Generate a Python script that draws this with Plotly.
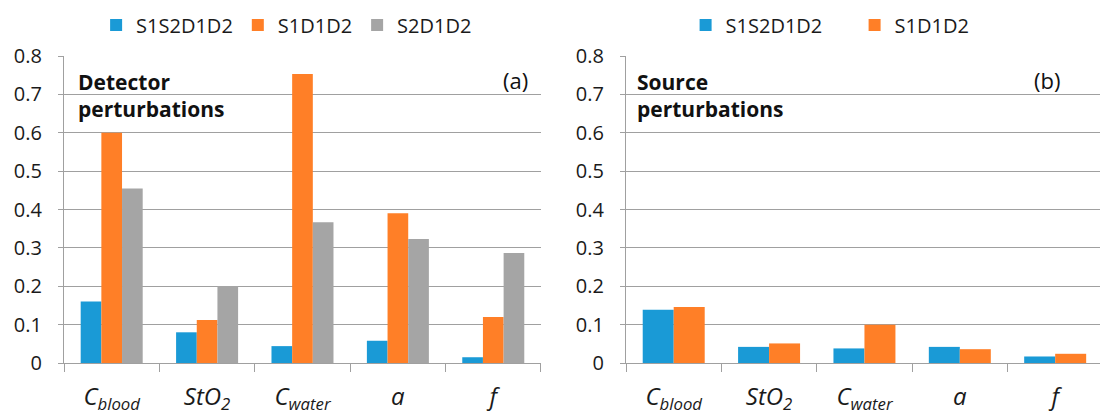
import plotly.graph_objects as go

categories = ["<i>C<sub>blood</sub></i>", "<i>StO<sub>2</sub></i>", "<i>C<sub>water</sub></i>", "<i>a</i>", "<i>f</i>"]

# Panel (a): detector perturbations
det_s1s2d1d2 = [0.160, 0.080, 0.044, 0.058, 0.015]
det_s1d1d2 = [0.600, 0.112, 0.753, 0.390, 0.120]
det_s2d1d2 = [0.455, 0.201, 0.367, 0.323, 0.287]

# Panel (b): source perturbations
src_s1s2d1d2 = [0.139, 0.042, 0.038, 0.042, 0.017]
src_s1d1d2 = [0.146, 0.051, 0.100, 0.036, 0.024]

y_tickvals = [0, 0.1, 0.2, 0.3, 0.4, 0.5, 0.6, 0.7, 0.8]
y_ticktext = ["0", "0.1", "0.2", "0.3", "0.4", "0.5", "0.6", "0.7", "0.8"]

BLUE = "#1A9AD6"
ORANGE = "#FF7F27"
GRAY = "#A5A5A5"
LINE = "#A0A0A0"
FONT = "Open Sans"
TXT = "#1a1a1a"

fig = go.Figure()

fig.add_trace(go.Bar(x=categories, y=det_s1s2d1d2, name="S1S2D1D2", marker_color=BLUE,
                     xaxis="x", yaxis="y", legend="legend", offsetgroup="a1"))
fig.add_trace(go.Bar(x=categories, y=det_s1d1d2, name="S1D1D2", marker_color=ORANGE,
                     xaxis="x", yaxis="y", legend="legend", offsetgroup="a2"))
fig.add_trace(go.Bar(x=categories, y=det_s2d1d2, name="S2D1D2", marker_color=GRAY,
                     xaxis="x", yaxis="y", legend="legend", offsetgroup="a3"))

fig.add_trace(go.Bar(x=categories, y=src_s1s2d1d2, name="S1S2D1D2", marker_color=BLUE,
                     xaxis="x2", yaxis="y2", legend="legend2", offsetgroup="b1"))
fig.add_trace(go.Bar(x=categories, y=src_s1d1d2, name="S1D1D2", marker_color=ORANGE,
                     xaxis="x2", yaxis="y2", legend="legend2", offsetgroup="b2"))

fig.update_traces(marker_line_width=0)

common_x = dict(
    type="category", showline=True, linecolor=LINE, linewidth=1.2,
    ticks="outside", ticklen=8, tickcolor=LINE, tickwidth=1.2, tickson="boundaries",
    showgrid=False, zeroline=False,
    tickfont=dict(family=FONT, size=24, color=TXT),
    ticklabelstandoff=12,
)
common_y = dict(
    range=[0, 0.8001], tickvals=y_tickvals, ticktext=y_ticktext,
    showline=True, linecolor=LINE, linewidth=1.2,
    ticks="outside", ticklen=5, tickcolor=LINE, tickwidth=1.2,
    showgrid=True, gridcolor=LINE, gridwidth=1.2, zeroline=False,
    tickfont=dict(family=FONT, size=20, color=TXT),
    ticklabelstandoff=12,
)

fig.update_layout(
    width=1100, height=416, autosize=False,
    margin=dict(l=64, r=0, t=56, b=53),
    paper_bgcolor="white", plot_bgcolor="white",
    barmode="group",
    bargap=0.35,
    font=dict(family=FONT, color=TXT),
    xaxis=dict(domain=[0, 0.4604], range=[-0.5, 4.5], anchor="y", **common_x),
    yaxis=dict(domain=[0, 1], anchor="x", **common_y),
    xaxis2=dict(domain=[0.5425, 1], range=[-0.5, 4.47], anchor="y2", **common_x),
    yaxis2=dict(domain=[0, 1], anchor="x2", **common_y),
    legend=dict(orientation="h", x=0.031, xanchor="left", y=1.101, yanchor="middle",
                font=dict(family=FONT, size=20, color=TXT),
                bgcolor="rgba(0,0,0,0)", traceorder="normal"),
    legend2=dict(orientation="h", x=0.600, xanchor="left", y=1.101, yanchor="middle",
                 font=dict(family=FONT, size=20, color=TXT),
                 entrywidth=124, entrywidthmode="pixels",
                 bgcolor="rgba(0,0,0,0)", traceorder="normal"),
    annotations=[
        dict(text="<b>Detector<br>perturbations</b>", xref="x domain", yref="y domain",
             x=0.025, y=0.968, xanchor="left", yanchor="top", align="left", showarrow=False,
             font=dict(family=FONT, size=21, color="#111111")),
        dict(text="(a)", xref="x domain", yref="y domain",
             x=0.977, y=0.978, xanchor="right", yanchor="top", showarrow=False,
             font=dict(family=FONT, size=22, color="#111111")),
        dict(text="<b>Source<br>perturbations</b>", xref="x2 domain", yref="y2 domain",
             x=0.019, y=0.968, xanchor="left", yanchor="top", align="left", showarrow=False,
             font=dict(family=FONT, size=21, color="#111111")),
        dict(text="(b)", xref="x2 domain", yref="y2 domain",
             x=0.92, y=0.978, xanchor="right", yanchor="top", showarrow=False,
             font=dict(family=FONT, size=22, color="#111111")),
    ],
)

fig.write_html("out.html")
